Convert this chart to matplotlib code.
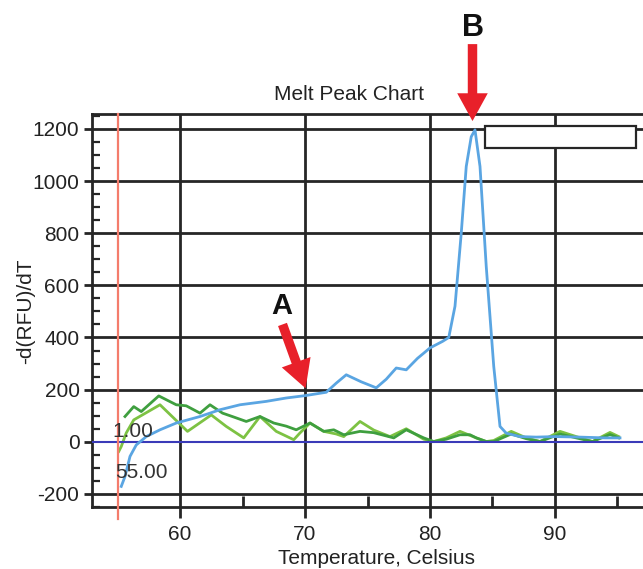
import matplotlib
matplotlib.use("Agg")
import matplotlib.pyplot as plt
from matplotlib.patches import Rectangle
from matplotlib.ticker import MultipleLocator, FixedLocator

plt.rcParams['font.family'] = ['Liberation Sans', 'DejaVu Sans']
plt.rcParams['axes.unicode_minus'] = False

# ---- data ----
blue_t = [55.3, 55.6, 56.0, 56.5, 57.3, 58.4, 59.7, 61.6, 63.2, 64.8, 66.9, 68.5, 70.0,
          71.7, 72.5, 73.3, 74.5, 75.7, 76.5, 77.3, 78.1, 79.0, 80.0, 81.0, 81.5, 82.0,
          82.5, 82.9, 83.3, 83.6, 84.0, 84.5, 85.1, 85.6, 86.1, 87.2, 88.5, 90.0, 92.0,
          94.0, 95.2]
blue_v = [-171, -133, -56, -12, 20, 46, 72, 97, 123, 142, 155, 168, 177,
          190, 225, 257, 230, 207, 240, 283, 276, 320, 360, 385, 400, 520,
          800, 1056, 1170, 1196, 1056, 672, 289, 59, 33, 20, 18, 20, 18,
          15, 15]

green1_t = [55.6, 56.3, 56.9, 58.3, 59.7, 60.5, 61.6, 62.4, 63.4, 64.3, 65.3, 66.4, 67.5,
            68.5, 69.3, 70.4, 71.5, 72.3, 73.1, 74.4, 75.5, 77.1, 78.1, 79.5, 80.3, 81.3,
            82.4, 83.2, 83.7, 84.5, 85.1, 86.5, 87.7, 88.8, 90.4, 91.7, 93.0, 94.4, 95.1]
green1_v = [97, 135, 116, 176, 142, 138, 110, 142, 110, 95, 78, 97, 72,
            60, 46, 72, 40, 46, 27, 40, 35, 15, 46, 15, 1, 10,
            27, 27, 15, 1, 1, 30, 12, 1, 30, 15, 1, 28, 15]

green2_t = [55.1, 55.3, 55.7, 56.3, 58.4, 60.6, 62.5, 63.7, 65.1, 66.4, 67.7, 69.1, 69.6,
            70.4, 71.5, 72.5, 73.1, 74.4, 75.5, 76.8, 78.1, 79.5, 80.3, 81.3, 82.4, 83.7,
            84.5, 85.1, 86.5, 87.7, 88.8, 90.4, 91.7, 93.0, 94.4, 95.1]
green2_v = [-37, -18, 34, 84, 142, 40, 103, 59, 15, 97, 40, 8, 34,
            72, 40, 30, 20, 78, 45, 20, 50, 10, 1, 15, 40, 15,
            1, 5, 40, 15, 1, 40, 20, 1, 36, 20]

x_major = [60, 70, 80, 90]
x_minor = [65, 75, 85, 95]
y_ticks = [-200, 0, 200, 400, 600, 800, 1000, 1200]
y_grid = [-200, 200, 400, 600, 800, 1000, 1200]
cursor_temp = 55.0

W, H = 643, 569
fig = plt.figure(figsize=(W / 100, H / 100), dpi=100)
ax = fig.add_axes([92 / W, 1 - 507 / H, 1 - 92 / W, (507 - 114) / H])
ax.set_xlim(52.96, 97.04)
ax.set_ylim(-250, 1257)

grid_c = '#262626'
for g in y_grid:
    ax.axhline(g, color=grid_c, lw=2.0, zorder=1)
for g in x_major:
    ax.axvline(g, color=grid_c, lw=2.0, zorder=1)
ax.axhline(0, color='#3a3ab8', lw=1.5, zorder=4)

ax.plot(green2_t, green2_v, color='#7dc243', lw=2.0, zorder=3)
ax.plot(green1_t, green1_v, color='#3f9f3f', lw=2.0, zorder=3)
ax.plot(blue_t, blue_v, color='#5aa5e2', lw=2.0, zorder=5)

# cursor line
ax.axvline(cursor_temp, ymin=-0.03, ymax=1.0, color='#f47c6c', lw=1.6, zorder=6, clip_on=False)

# spines
for s in ['left', 'top', 'bottom']:
    ax.spines[s].set_linewidth(2.0)
    ax.spines[s].set_color(grid_c)
ax.spines['right'].set_visible(False)

ax.xaxis.set_major_locator(FixedLocator(x_major))
ax.xaxis.set_minor_locator(FixedLocator(x_minor))
ax.yaxis.set_major_locator(FixedLocator(y_ticks))
ax.yaxis.set_minor_locator(MultipleLocator(50))
ax.tick_params(axis='x', which='major', direction='out', length=8, width=2, color=grid_c,
               labelsize=15, pad=5)
ax.tick_params(axis='x', which='minor', direction='in', length=8, width=2, color=grid_c)
ax.tick_params(axis='y', which='major', direction='out', length=6, width=2, color=grid_c,
               labelsize=15, pad=3)
ax.tick_params(axis='y', which='minor', direction='in', length=6, width=1.6, color=grid_c)
for lab in ax.get_xticklabels() + ax.get_yticklabels():
    lab.set_color('#222222')

# empty legend box
ax.add_patch(Rectangle((84.4, 1127), 12.1, 85, facecolor='white', edgecolor=grid_c,
                       lw=1.6, zorder=7))

# cursor texts
ax.text(54.6, 40, '1.00', fontsize=15, color='#333333', va='center', ha='left', zorder=8)
ax.text(54.8, -118, '55.00', fontsize=15, color='#333333', va='center', ha='left', zorder=8)

# titles & labels
fig.text(349 / W, 1 - 94 / H, 'Melt Peak Chart', fontsize=15, ha='center', va='center',
         color='#222222')
fig.text(376 / W, 1 - 559 / H, 'Temperature, Celsius', fontsize=15, ha='center',
         va='center', color='#222222')
fig.text(26 / W, 1 - 311 / H, '-d(RFU)/dT', fontsize=15, ha='center', va='center',
         rotation=90, color='#222222')

# arrows
red = '#e8202a'
astyle = dict(arrowstyle='simple,head_length=1.0,head_width=1.1,tail_width=0.34',
              color=red, lw=0, shrinkA=0, shrinkB=0, mutation_scale=20)
ax.annotate('', xy=(70.05, 205), xytext=(68.2, 450), arrowprops=astyle,
            annotation_clip=False, zorder=9)
ax.annotate('', xy=(83.4, 1230), xytext=(83.4, 1525), arrowprops=astyle,
            annotation_clip=False, zorder=9)
fig.text(282 / W, 1 - 306 / H, 'A', fontsize=21, fontweight='bold', ha='center',
         va='center', color='#111111')
fig.text(473 / W, 1 - 28 / H, 'B', fontsize=22, fontweight='bold', ha='center',
         va='center', color='#111111')

fig.savefig('out.png', dpi=100)
